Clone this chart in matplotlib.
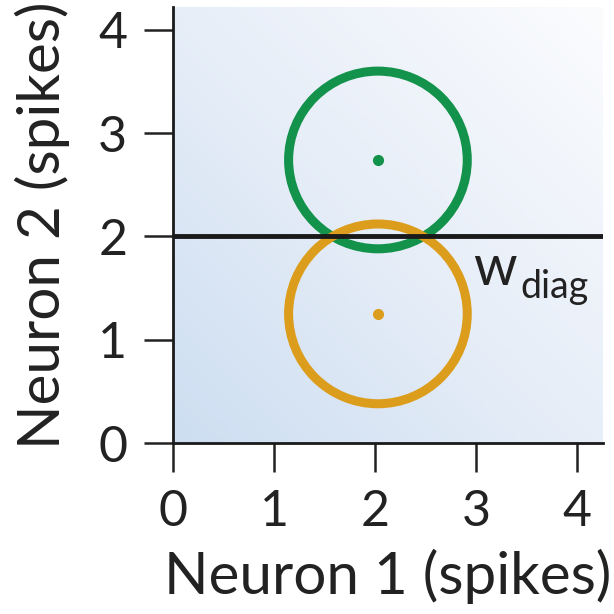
import matplotlib.pyplot as plt
import numpy as np
from matplotlib.patches import Ellipse
from matplotlib.colors import LinearSegmentedColormap

# Two stimulus response distributions (mean spikes of neuron 1, neuron 2)
centers_x = [2.03, 2.03]
centers_y = [2.74, 1.25]
radius_x = [0.885, 0.885]
radius_y = [0.86, 0.87]
colors = ['#12924a', '#dc9d1c']

# Decision boundary
boundary_y = 2.0

ticks = [0, 1, 2, 3, 4]
xmax, ymax = 4.26, 4.22

plt.rcParams['font.family'] = ['Lato', 'DejaVu Sans']

fig = plt.figure(figsize=(6.14, 6.14), dpi=100)
ax = fig.add_axes([0.2818, 0.2785, 0.7003, 0.710])

# Soft blue gradient behind the plot
gx, gy = np.meshgrid(np.linspace(0, 1, 200), np.linspace(0, 1, 200))
t = (gx + gy) / 2
cmap = LinearSegmentedColormap.from_list('bg', ['#cddef1', '#e7eef8', '#fbfcfe'])
ax.imshow(t, cmap=cmap, origin='lower', extent=[0, xmax, 0, ymax],
          aspect='auto', zorder=0, vmin=0, vmax=1)

for cx, cy, rx, ry, c in zip(centers_x, centers_y, radius_x, radius_y, colors):
    ax.add_patch(Ellipse((cx, cy), 2 * rx, 2 * ry, fill=False,
                         edgecolor=c, linewidth=6.5, zorder=2))
    ax.plot(cx, cy, 'o', color=c, markersize=7, zorder=3)

ax.axhline(boundary_y, color='#1a1a1a', linewidth=3.5, zorder=4)

ax.text(2.97, 1.53, 'w', fontsize=40, color='#222222', zorder=5)
ax.text(3.44, 1.40, 'diag', fontsize=27, color='#222222', zorder=5)

ax.set_xlim(0, xmax)
ax.set_ylim(0, ymax)
ax.set_xticks(ticks)
ax.set_yticks(ticks)
ax.tick_params(direction='out', length=21, width=1.8, pad=12,
               labelsize=36, colors='#222222')

for side in ['top', 'right']:
    ax.spines[side].set_visible(False)
for side in ['left', 'bottom']:
    ax.spines[side].set_linewidth(2)
    ax.spines[side].set_color('#1a1a1a')

ax.set_xlabel('Neuron 1 (spikes)', fontsize=42, color='#222222', labelpad=10)
ax.set_ylabel('Neuron 2 (spikes)', fontsize=42, color='#222222', labelpad=20)

fig.savefig('out.png', dpi=100)
